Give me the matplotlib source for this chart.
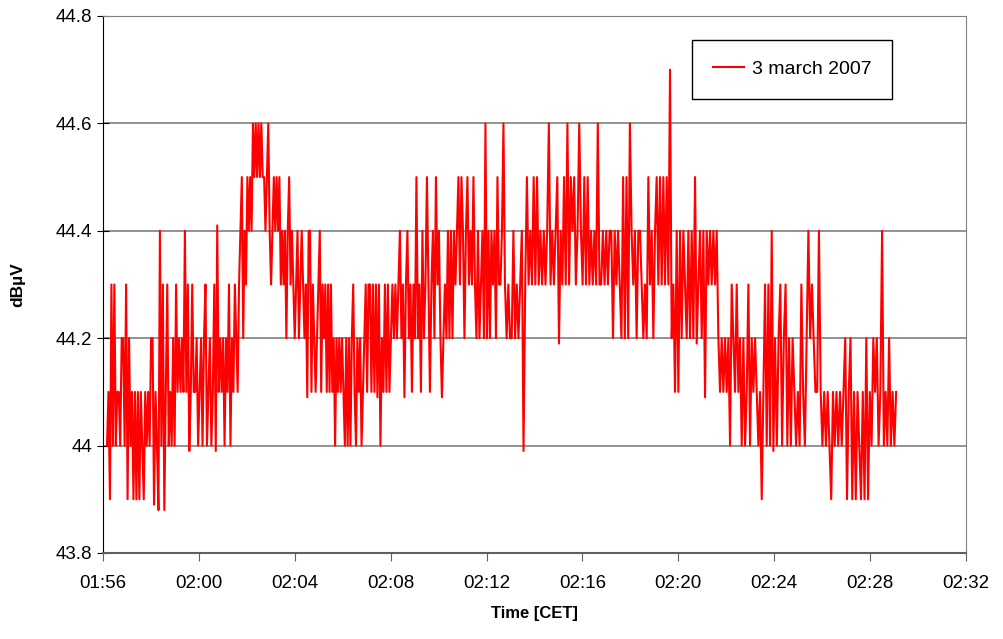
import numpy as np
import matplotlib
matplotlib.use("Agg")
import matplotlib.pyplot as plt
from matplotlib.ticker import FuncFormatter, MultipleLocator

# field strength readings, 3 march 2007 (in time order)
seg1 = [44.0, 44.1, 43.9, 44.3, 44.0, 44.3, 44.0, 44.1, 44.1, 44.0, 44.2, 44.2, 44.0, 44.3, 43.9,
        44.2, 44.0, 44.1, 43.9, 44.1, 43.9, 44.1, 43.9, 44.1, 44.0, 43.9, 44.1, 44.0, 44.1, 44.0,
        44.2, 44.2, 43.89, 44.1, 44.0, 43.88, 44.4, 44.0, 44.3, 43.88, 44.1, 44.3, 44.0, 44.1, 44.0,
        44.2, 44.0, 44.3, 44.1, 44.2, 44.1, 44.2, 44.1, 44.4, 44.1, 44.3, 43.99, 44.1, 44.3, 44.1,
        44.1, 44.2, 44.0, 44.1, 44.2, 44.0, 44.2, 44.3, 44.0, 44.1, 44.2, 44.0, 44.1, 44.3, 43.99,
        44.41, 44.1, 44.2, 44.1, 44.2, 44.0, 44.2, 44.1, 44.3, 44.0, 44.2, 44.1]
seg2 = [44.3, 44.2, 44.1, 44.3, 44.4, 44.5, 44.2, 44.4, 44.3, 44.5, 44.4, 44.5, 44.4, 44.6, 44.5,
        44.6, 44.5, 44.6, 44.5, 44.6, 44.5, 44.5, 44.4, 44.5, 44.6, 44.4, 44.3, 44.4, 44.5, 44.4,
        44.5, 44.4, 44.5, 44.3, 44.4, 44.3, 44.4, 44.2, 44.4, 44.5, 44.3, 44.4, 44.3, 44.2, 44.3,
        44.4, 44.2, 44.3, 44.4, 44.3, 44.2, 44.3, 44.09, 44.4, 44.4, 44.1, 44.3, 44.2, 44.1, 44.2,
        44.3, 44.4, 44.1, 44.3, 44.2, 44.3, 44.1, 44.3, 44.1, 44.3, 44.1, 44.2, 44.0, 44.2, 44.1,
        44.2, 44.1, 44.2, 44.1, 44.0, 44.2, 44.0, 44.2, 44.0, 44.2, 44.3, 44.1, 44.0, 44.2, 44.1,
        44.2, 44.0, 44.1, 44.2, 44.3, 44.1, 44.3]
seg3 = [44.3, 44.1, 44.3, 44.1, 44.3, 44.09, 44.3, 44.0, 44.2, 44.1, 44.3, 44.1, 44.3, 44.1, 44.2,
        44.3, 44.2, 44.3, 44.2, 44.3, 44.4, 44.2, 44.3, 44.09, 44.3, 44.4, 44.2, 44.3, 44.1, 44.3,
        44.2, 44.5, 44.2, 44.3, 44.1, 44.4, 44.2, 44.3, 44.5, 44.3, 44.1, 44.3, 44.4, 44.2, 44.5,
        44.3, 44.4, 44.2, 44.09, 44.2, 44.3, 44.2, 44.4, 44.2, 44.4, 44.2, 44.4, 44.3, 44.4, 44.5,
        44.3, 44.5, 44.4, 44.2, 44.4, 44.5, 44.3, 44.4, 44.3, 44.5, 44.3, 44.2, 44.4, 44.2, 44.3,
        44.4, 44.2, 44.6, 44.2, 44.4, 44.2, 44.4, 44.3, 44.4, 44.2, 44.5, 44.3, 44.3, 44.4, 44.6]
seg4 = [44.3, 44.2, 44.3, 44.2, 44.2, 44.4, 44.2, 44.3, 44.2, 44.3, 44.4, 43.99, 44.3, 44.5, 44.3,
        44.4, 44.3, 44.5, 44.3, 44.5, 44.3, 44.4, 44.3, 44.4, 44.3, 44.4, 44.6, 44.3, 44.4, 44.3,
        44.4, 44.5, 44.19, 44.4, 44.3, 44.5, 44.3, 44.6, 44.3, 44.5, 44.4, 44.5, 44.3, 44.4, 44.6,
        44.4, 44.3, 44.5, 44.3, 44.5, 44.3, 44.4, 44.3, 44.4, 44.3, 44.6, 44.3, 44.3, 44.4, 44.3,
        44.4, 44.3, 44.4, 44.4, 44.2, 44.4, 44.3, 44.4, 44.3, 44.2, 44.5, 44.2, 44.5, 44.2, 44.6,
        44.4, 44.3, 44.4, 44.2, 44.4]
seg5 = [44.4, 44.3, 44.2, 44.3, 44.2, 44.5, 44.3, 44.4, 44.2, 44.4, 44.5, 44.3, 44.5, 44.3, 44.5,
        44.3, 44.5, 44.3, 44.7, 44.2, 44.3, 44.1, 44.4, 44.1, 44.4, 44.2, 44.4, 44.3, 44.2, 44.4,
        44.2, 44.4, 44.2, 44.5, 44.19, 44.3, 44.4, 44.2, 44.4, 44.09, 44.4, 44.3, 44.4, 44.3, 44.4,
        44.3, 44.4, 44.2, 44.1, 44.2, 44.1, 44.2, 44.1, 44.2, 44.0, 44.3, 44.2, 44.1, 44.3, 44.1,
        44.2, 44.0, 44.2, 44.0, 44.1, 44.3, 44.0, 44.2, 44.1, 44.2, 44.1, 44.0, 44.1, 43.9, 44.1,
        44.3, 44.0, 44.3, 44.0, 44.4, 43.99]
seg6 = [44.2, 44.0, 44.2, 44.3, 44.0, 44.2, 44.3, 44.0, 44.2, 44.0, 44.2, 44.1, 44.0, 44.1, 44.0,
        44.3, 44.1, 44.0, 44.2, 44.4, 44.2, 44.3, 44.2, 44.1, 44.1, 44.4, 44.1, 44.0, 44.1, 44.0,
        44.1, 44.0, 43.9, 44.1, 44.0, 44.1, 44.0, 44.1, 44.0, 44.1, 44.2, 43.9, 44.1, 44.2, 43.9,
        44.1, 43.9, 44.1, 44.0, 43.9, 44.1, 43.9, 44.2, 43.9, 44.1, 44.0, 44.2, 44.1, 44.2, 44.0,
        44.1, 44.4, 44.0, 44.1, 44.0, 44.2, 44.0, 44.1, 44.0, 44.1]

segments = [seg1, seg2, seg3, seg4, seg5, seg6]
# start time of each stretch and end of recording (hh, mm, ss)
seg_times = [(1, 56, 10), (2, 1, 30), (2, 7, 8), (2, 12, 46), (2, 18, 24), (2, 24, 2), (2, 29, 5)]


def to_min(h, m, s):
    return h * 60 + m + s / 60.0


bounds = [to_min(*hms) for hms in seg_times]
t = []
level = []
for i, seg in enumerate(segments):
    last = i == len(segments) - 1
    t.extend(np.linspace(bounds[i], bounds[i + 1], len(seg), endpoint=last))
    level.extend(seg)

fig = plt.figure(figsize=(10.04, 6.39), dpi=100)
ax = fig.add_axes([0.1026, 0.1346, 0.8596, 0.8404])

ax.plot(t, level, color="#ff0000", lw=1.5, label="3 march 2007")

ax.set_xlim(116, 152)
ax.set_ylim(43.8, 44.8)
ax.xaxis.set_major_locator(MultipleLocator(4))
ax.yaxis.set_major_locator(MultipleLocator(0.2))
ax.xaxis.set_major_formatter(FuncFormatter(lambda v, p: "%02d:%02d" % (int(v) // 60, int(v) % 60)))
ax.yaxis.set_major_formatter(FuncFormatter(lambda v, p: ("%.1f" % v).rstrip("0").rstrip(".")))

ax.grid(axis="y", color="#808080", lw=1.2)
ax.set_axisbelow(True)
for s in ["top", "right"]:
    ax.spines[s].set_color("#808080")
ax.spines["left"].set_color("black")
ax.spines["bottom"].set_color("#606060")
ax.spines["bottom"].set_linewidth(1.5)

ax.tick_params(axis="y", direction="inout", length=8, labelsize=13.5, pad=4)
ax.tick_params(axis="x", direction="out", length=6, labelsize=13.5, pad=10, color="#606060")

font = ["Liberation Sans", "DejaVu Sans"]
for lbl in ax.get_xticklabels() + ax.get_yticklabels():
    lbl.set_family(font)

ax.set_ylabel("dBµV", fontsize=12.5, fontweight="bold", family=font, labelpad=22)
ax.set_xlabel("Time [CET]", fontsize=12, fontweight="bold", family=font, labelpad=10)

leg = ax.legend(loc="upper right", bbox_to_anchor=(0.925, 0.973), fancybox=False,
                edgecolor="black", framealpha=1, handlelength=1.6, handletextpad=0.4,
                borderpad=1.05, prop={"family": font, "size": 14})
leg.get_frame().set_linewidth(1.0)

fig.savefig("out.png", dpi=100)
